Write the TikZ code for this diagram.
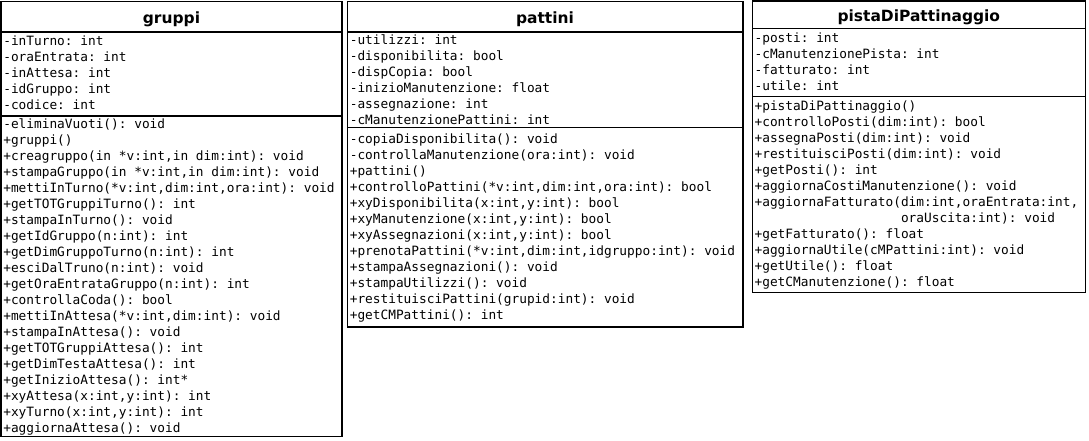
\documentclass[tikz,border=0pt]{standalone}
\usepackage{fontspec}
\setmainfont{DejaVu Sans}
\setmonofont{DejaVu Sans Mono}

\begin{document}
\begin{tikzpicture}[x=0.75pt, y=-0.75pt, line width=1.2pt,
		member/.style={anchor=base west, inner sep=0pt, font=\fontsize{9.6}{12}\selectfont\ttfamily},
		classname/.style={anchor=base, inner sep=0pt, font=\fontsize{11.6}{14}\selectfont\bfseries}]
		\useasboundingbox (0,0) rectangle (1089,440);

		% gruppi
		\draw (1,1.5) rectangle (342,436.5);
		\draw (1,32) -- (342,32);
		\draw (1,116) -- (342,116);
		\node[classname] (gruppi) at (171.5,23.5) {gruppi};
		\foreach \m [count=\i] in {{-inTurno: int}, {-oraEntrata: int}, {-inAttesa: int}, {-idGruppo: int}, {-codice: int}} {
			\node[member] (gruppi-a\i) at (2.5,{45+16*(\i-1)}) {\m};
		}
		\foreach \m [count=\i] in {{-eliminaVuoti(): void}, {+gruppi()}, {+creagruppo(in *v:int,in dim:int): void},
			{+stampaGruppo(in *v:int,in dim:int): void}, {+mettiInTurno(*v:int,dim:int,ora:int): void},
			{+getTOTGruppiTurno(): int}, {+stampaInTurno(): void}, {+getIdGruppo(n:int): int},
			{+getDimGruppoTurno(n:int): int}, {+esciDalTruno(n:int): void}, {+getOraEntrataGruppo(n:int): int},
			{+controllaCoda(): bool}, {+mettiInAttesa(*v:int,dim:int): void}, {+stampaInAttesa(): void},
			{+getTOTGruppiAttesa(): int}, {+getDimTestaAttesa(): int}, {+getInizioAttesa(): int*},
			{+xyAttesa(x:int,y:int): int}, {+xyTurno(x:int,y:int): int}, {+aggiornaAttesa(): void}} {
			\node[member] (gruppi-m\i) at (2.5,{128.5+16*(\i-1)}) {\m};
		}

		% pattini
		\draw (347.5,1.5) rectangle (742.7,327);
		\draw (347.5,32) -- (742.7,32);
		\draw (347.5,127.5) -- (742.7,127.5);
		\node[classname] (pattini) at (545,23) {pattini};
		\foreach \m [count=\i] in {{-utilizzi: int}, {-disponibilita: bool}, {-dispCopia: bool},
			{-inizioManutenzione: float}, {-assegnazione: int}, {-cManutenzionePattini: int}} {
			\node[member] (pattini-a\i) at (349,{44+16*(\i-1)}) {\m};
		}
		\foreach \m [count=\i] in {{-copiaDisponibilita(): void}, {-controllaManutenzione(ora:int): void}, {+pattini()},
			{+controlloPattini(*v:int,dim:int,ora:int): bool}, {+xyDisponibilita(x:int,y:int): bool},
			{+xyManutenzione(x:int,y:int): bool}, {+xyAssegnazioni(x:int,y:int): bool},
			{+prenotaPattini(*v:int,dim:int,idgruppo:int): void}, {+stampaAssegnazioni(): void},
			{+stampaUtilizzi(): void}, {+restituisciPattini(grupid:int): void}, {+getCMPattini(): int}} {
			\node[member] (pattini-m\i) at (349,{143+16*(\i-1)}) {\m};
		}

		% pistaDiPattinaggio
		\draw (752.3,1) rectangle (1085.3,292.5);
		\draw (752.3,28.5) -- (1085.3,28.5);
		\draw (752.3,96.5) -- (1085.3,96.5);
		\node[classname] (pista) at (918.8,21) {pistaDiPattinaggio};
		\foreach \m [count=\i] in {{-posti: int}, {-cManutenzionePista: int}, {-fatturato: int}, {-utile: int}} {
			\node[member] (pista-a\i) at (753.8,{42+16*(\i-1)}) {\m};
		}
		\foreach \m [count=\i] in {{+pistaDiPattinaggio()}, {+controlloPosti(dim:int): bool}, {+assegnaPosti(dim:int): void},
			{+restituisciPosti(dim:int): void}, {+getPosti(): int}, {+aggiornaCostiManutenzione(): void},
			{+aggiornaFatturato(dim:int,oraEntrata:int,}, {\phantom{+aggiornaFatturato(}oraUscita:int): void},
			{+getFatturato(): float}, {+aggiornaUtile(cMPattini:int): void}, {+getUtile(): float},
			{+getCManutenzione(): float}} {
			\node[member] (pista-m\i) at (753.8,{110.5+16*(\i-1)}) {\m};
		}
	\end{tikzpicture}
\end{document}
